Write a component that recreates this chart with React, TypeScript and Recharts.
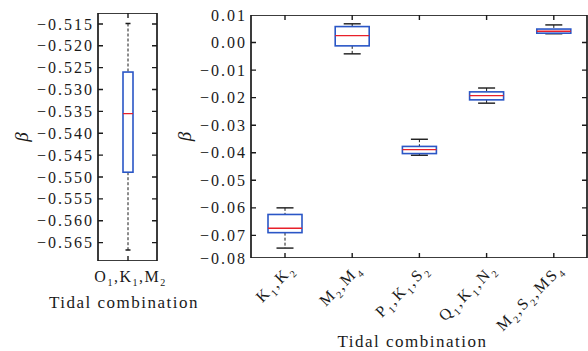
import { Bar, ComposedChart, Label, XAxis, YAxis } from 'recharts'

// left panel: one tidal combination
const leftCategories = ['O1,K1,M2']
const leftLow = [-0.5667]
const leftQ1 = [-0.5489]
const leftMedian = [-0.5355]
const leftQ3 = [-0.526]
const leftHigh = [-0.5149]
const leftTicks = [-0.515, -0.52, -0.525, -0.53, -0.535, -0.54, -0.545, -0.55, -0.555, -0.56, -0.565]
const leftDomain = [-0.5692, -0.5125]

// right panel: five tidal combinations
const rightCategories = ['K1,K2', 'M2,M4', 'P1,K1,S2', 'Q1,K1,N2', 'M2,S2,MS4']
const rightLow = [-0.0746, -0.0041, -0.0409, -0.022, 0.0032]
const rightQ1 = [-0.069, -0.0012, -0.0403, -0.0208, 0.0034]
const rightMedian = [-0.0674, 0.0025, -0.0389, -0.0193, 0.0041]
const rightQ3 = [-0.0624, 0.0058, -0.0377, -0.0179, 0.0049]
const rightHigh = [-0.06, 0.0068, -0.0351, -0.0165, 0.0064]
const rightTicks = [0.01, 0, -0.01, -0.02, -0.03, -0.04, -0.05, -0.06, -0.07, -0.08]
const rightDomain = [-0.0782, 0.01]

const FONT = '"Liberation Serif", "Times New Roman", serif'
const INK = '#1a1a1a'
const BOX_BLUE = '#2a56c6'
const MEDIAN_RED = '#e8202a'
const TICK_LEN = 5
const TICK_FONT = 16

const CHART_H = 351
const LEFT_W = 200
const LEFT_TOP = 13
const LEFT_AXIS_W = 98
const LEFT_RIGHT_PAD = 43
const LEFT_XAXIS_H = 90
const RIGHT_W = 423
const RIGHT_TOP = 15
const RIGHT_AXIS_W = 86
const RIGHT_RIGHT_PAD = 1
const RIGHT_XAXIS_H = 93
const RIGHT_PLOT_BOTTOM = CHART_H - RIGHT_XAXIS_H

type Row = { name: string; low: number; q1: number; median: number; q3: number; high: number; span: [number, number] }

function buildRows(names: string[], low: number[], q1: number[], med: number[], q3: number[], high: number[]): Row[] {
  return names.map((name, i) => ({
    name,
    low: low[i],
    q1: q1[i],
    median: med[i],
    q3: q3[i],
    high: high[i],
    span: [low[i], high[i]],
  }))
}

const leftRows = buildRows(leftCategories, leftLow, leftQ1, leftMedian, leftQ3, leftHigh)
const rightRows = buildRows(rightCategories, rightLow, rightQ1, rightMedian, rightQ3, rightHigh)

const fmt = (v: number, digits: number) => v.toFixed(digits).replace('-', '\u2212')

type Frame = { left: number; right: number; domain: number[]; ticks: number[] }

// one box per category; the first one also draws the axes frame with inward ticks
function BoxShape(props: any) {
  const { x, y, width, height, payload, index, frame } = props
  if (x == null || !payload) return null
  const top = Math.min(y, y + height)
  const bottom = Math.max(y, y + height)
  const { low, q1, median, q3, high } = payload as Row
  const toY = (v: number) => top + ((high - v) / (high - low)) * (bottom - top)
  const cx = x + width / 2
  const cap = width / 4
  const f = frame as Frame
  const fTop = toY(f.domain[1])
  const fBottom = toY(f.domain[0])
  const inner = f.ticks.filter((v) => v > f.domain[0] && v < f.domain[1])
  return (
    <g>
      {index === 0 && (
        <g>
          <rect x={f.left} y={fTop} width={f.right - f.left} height={fBottom - fTop} fill="none" stroke={INK} strokeWidth={1.7} />
          {inner.map((v) => (
            <path
              key={v}
              d={`M${f.left},${toY(v)}H${f.left + TICK_LEN}M${f.right},${toY(v)}H${f.right - TICK_LEN}`}
              stroke={INK}
              strokeWidth={1.4}
              fill="none"
            />
          ))}
        </g>
      )}
      <path d={`M${cx},${fTop}V${fTop + TICK_LEN}M${cx},${fBottom}V${fBottom - TICK_LEN}`} stroke={INK} strokeWidth={1.4} fill="none" />
      <line x1={cx} x2={cx} y1={toY(high)} y2={toY(q3)} stroke={INK} strokeWidth={1} strokeDasharray="3 2" />
      <line x1={cx} x2={cx} y1={toY(q1)} y2={toY(low)} stroke={INK} strokeWidth={1} strokeDasharray="3 2" />
      <line x1={cx - cap} x2={cx + cap} y1={toY(high)} y2={toY(high)} stroke={INK} strokeWidth={1.4} />
      <line x1={cx - cap} x2={cx + cap} y1={toY(low)} y2={toY(low)} stroke={INK} strokeWidth={1.4} />
      <rect x={x} y={toY(q3)} width={width} height={toY(q1) - toY(q3)} fill="none" stroke={BOX_BLUE} strokeWidth={1.6} />
      <line x1={x} x2={x + width} y1={toY(median)} y2={toY(median)} stroke={MEDIAN_RED} strokeWidth={1.3} />
    </g>
  )
}

// "K1,K2" -> K with subscript 1, comma, K with subscript 2
function TidalText({ label, size }: { label: string; size: number }) {
  const shift = size * 0.28
  const subSize = Math.round(size * 0.62)
  const parts = label.split(',')
  const out: any[] = []
  parts.forEach((part, i) => {
    const m = part.match(/^([A-Z]+)(\d+)$/)
    const base = m ? m[1] : part
    const sub = m ? m[2] : ''
    out.push(
      <tspan key={`b${i}`} dy={i === 0 ? 0 : -shift}>
        {(i > 0 ? ',' : '') + base}
      </tspan>,
    )
    out.push(
      <tspan key={`s${i}`} dy={shift} fontSize={subSize}>
        {sub}
      </tspan>,
    )
  })
  return <>{out}</>
}

function valueTick(digits: number, maxY: number) {
  return (props: any) => {
    const x = Number(props.x)
    const y = Math.min(Number(props.y), maxY)
    return (
      <text x={x - 4} y={y} dy="0.35em" textAnchor="end" fontFamily={FONT} fontSize={TICK_FONT} letterSpacing={2} fill={INK}>
        {fmt(props.payload.value, digits)}
      </text>
    )
  }
}

function LeftCategoryTick(props: any) {
  const x = Number(props.x) + 3
  const y = Number(props.y)
  return (
    <text x={x} y={y + 21} textAnchor="middle" fontFamily={FONT} fontSize={TICK_FONT} letterSpacing={1.5} fill={INK}>
      <TidalText label={props.payload.value} size={TICK_FONT} />
    </text>
  )
}

function RightCategoryTick(props: any) {
  const x = Number(props.x)
  const y = Number(props.y)
  const ax = x + 11
  const ay = y + 12
  return (
    <text
      x={ax}
      y={ay}
      textAnchor="end"
      transform={`rotate(-45, ${ax}, ${ay})`}
      fontFamily={FONT}
      fontSize={TICK_FONT}
      letterSpacing={2}
      fill={INK}
    >
      <TidalText label={props.payload.value} size={TICK_FONT} />
    </text>
  )
}

function xTitle(centerX: number, dy: number) {
  return (p: any) => (
    <text x={centerX} y={p.viewBox.y + dy} textAnchor="middle" fontFamily={FONT} fontSize={17} letterSpacing={1.5} fill={INK}>
      Tidal combination
    </text>
  )
}

function yTitle(dx: number) {
  return (p: any) => {
    const vb = p.viewBox
    const cx = vb.x + dx
    const cy = vb.y + vb.height / 2
    return (
      <text x={cx} y={cy} dy="0.35em" textAnchor="middle" transform={`rotate(-90, ${cx}, ${cy})`} fontFamily={FONT} fontStyle="italic" fontSize={19} fill={INK}>
        β
      </text>
    )
  }
}

const leftFrame: Frame = { left: LEFT_AXIS_W, right: LEFT_W - LEFT_RIGHT_PAD, domain: leftDomain, ticks: leftTicks }
const rightFrame: Frame = { left: RIGHT_AXIS_W, right: RIGHT_W - RIGHT_RIGHT_PAD, domain: rightDomain, ticks: rightTicks }

export default function App() {
  return (
    <div style={{ position: 'fixed', left: 0, top: 0, width: 588, height: 351, background: '#fff' }}>
      <div style={{ position: 'absolute', left: 0, top: 0 }}>
        <ComposedChart width={LEFT_W} height={CHART_H} data={leftRows} margin={{ top: LEFT_TOP, right: LEFT_RIGHT_PAD, bottom: 0, left: 0 }}>
          <XAxis dataKey="name" height={LEFT_XAXIS_H} axisLine={false} tickLine={false} tickSize={0} tickMargin={0} interval={0} tick={LeftCategoryTick}>
            <Label content={xTitle((leftFrame.left + leftFrame.right) / 2 - 3.5, 47)} />
          </XAxis>
          <YAxis type="number" width={LEFT_AXIS_W} domain={leftDomain} ticks={leftTicks} allowDataOverflow interval={0} axisLine={false} tickLine={false} tickSize={0} tickMargin={0} tick={valueTick(3, CHART_H - LEFT_XAXIS_H)}>
            <Label content={yTitle(21)} />
          </YAxis>
          <Bar dataKey="span" barSize={10} shape={(p: any) => <BoxShape {...p} frame={leftFrame} />} isAnimationActive={false} />
        </ComposedChart>
      </div>
      <div style={{ position: 'absolute', left: 165, top: 0 }}>
        <ComposedChart width={RIGHT_W} height={CHART_H} data={rightRows} margin={{ top: RIGHT_TOP, right: RIGHT_RIGHT_PAD, bottom: 0, left: 0 }}>
          <XAxis dataKey="name" height={RIGHT_XAXIS_H} axisLine={false} tickLine={false} tickSize={0} tickMargin={0} interval={0} tick={RightCategoryTick}>
            <Label content={xTitle((rightFrame.left + rightFrame.right) / 2 - 6.5, 89)} />
          </XAxis>
          <YAxis type="number" width={RIGHT_AXIS_W} domain={rightDomain} ticks={rightTicks} allowDataOverflow interval={0} axisLine={false} tickLine={false} tickSize={0} tickMargin={0} tick={valueTick(2, RIGHT_PLOT_BOTTOM)}>
            <Label content={yTitle(19)} />
          </YAxis>
          <Bar dataKey="span" barSize={34} shape={(p: any) => <BoxShape {...p} frame={rightFrame} />} isAnimationActive={false} />
        </ComposedChart>
      </div>
    </div>
  )
}
